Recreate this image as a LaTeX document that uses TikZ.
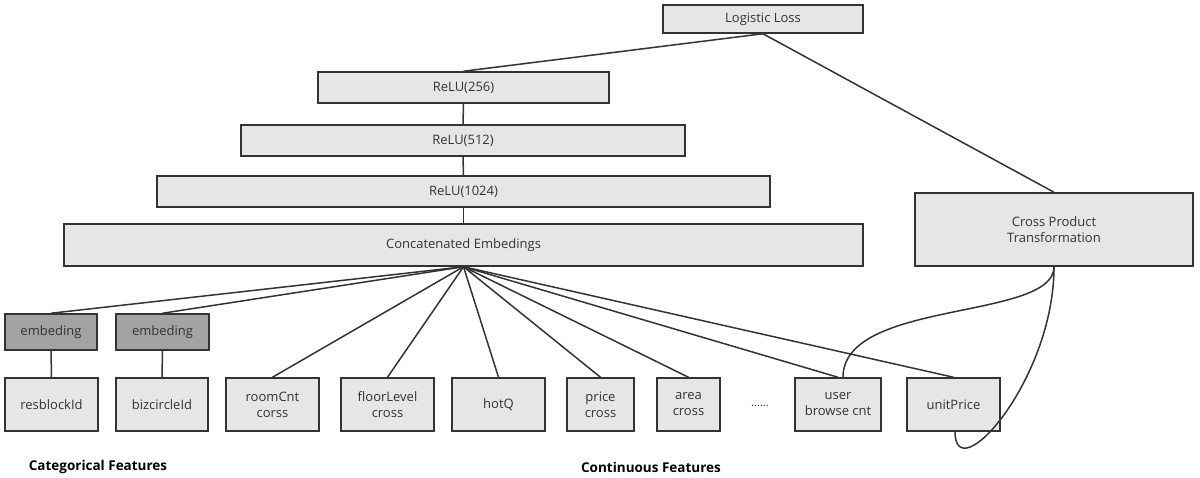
\documentclass[tikz,border=0pt]{standalone}
\usepackage{fontspec}
\setmainfont{Open Sans}
\begin{document}
\begin{tikzpicture}[x=1pt,y=-1pt,
  box/.style={draw=linec,fill=boxfill,line width=1.5pt,inner sep=0pt,align=center,
    font=\fontsize{13}{16}\selectfont,text=textc},
  embbox/.style={box,fill=embfill},
  conn/.style={draw=linec,line width=1.5pt},
  caption/.style={font=\fontsize{13.5}{16}\selectfont\bfseries,text=black}]
\definecolor{linec}{HTML}{333333}
\definecolor{boxfill}{HTML}{E6E6E6}
\definecolor{embfill}{HTML}{A3A3A3}
\definecolor{textc}{HTML}{333333}
\useasboundingbox (0,0) rectangle (1200,477);
\newcommand{\bx}[7]{\node[#1,minimum width=#4-#3,minimum height=#6-#5] (#2) at ({(#3+#4)/2},{(#5+#6)/2}) {#7};}
\bx{box}{loss}{663}{863}{5}{33}{Logistic Loss}
\bx{box}{r256}{318}{609}{72}{103}{ReLU(256)}
\bx{box}{r512}{241}{685}{125}{156}{ReLU(512)}
\bx{box}{r1024}{157}{770}{176}{207}{ReLU(1024)}
\bx{box}{concat}{64}{863}{224}{266}{Concatenated Embedings}
\bx{box}{cross}{915}{1193}{193}{266}{Cross Product\\Transformation}
\bx{embbox}{emba}{5}{97}{314}{350}{embeding}
\bx{embbox}{embb}{116}{209}{314}{350}{embeding}
\bx{box}{resb}{5}{98}{378}{431}{resblockId}
\bx{box}{bizc}{116}{208}{378}{431}{bizcircleId}
\bx{box}{room}{226}{319}{378}{431}{roomCnt\\corss}
\bx{box}{floor}{341}{434}{378}{431}{floorLevel\\cross}
\bx{box}{hotq}{452}{545}{378}{431}{hotQ}
\bx{box}{price}{567}{634}{378}{431}{price\\cross}
\bx{box}{area}{657}{720}{378}{431}{area\\cross}
\bx{box}{user}{795}{881}{378}{431}{user\\browse cnt}
\bx{box}{unit}{907}{1000}{378}{431}{unitPrice}
\node[font=\fontsize{11}{13}\selectfont,text=textc] (dots) at (760,406) {......};
\node[caption] (cat) at (98,467) {Categorical Features};
\node[caption] (cont) at (651,467) {Continuous Features};
% connectors
\draw[conn] (loss.south) -- (r256.north);
\draw[conn] (loss.south) -- (cross.north);
\draw[conn] (r256.south) -- (r512.north);
\draw[conn] (r512.south) -- (r1024.north);
\draw[conn] (r1024.south) -- (concat.north);
\foreach \t in {emba,embb,room,floor,hotq,price,area,user,unit}
  \draw[conn] (concat.south) -- (\t.north);
\draw[conn] (emba.south) -- (resb.north);
\draw[conn] (embb.south) -- (bizc.north);
\draw[conn] (cross.south) .. controls +(0,54) and +(0,-78) .. ([xshift=5pt]user.north);
\draw[conn] (cross.south) .. controls +(0,114) and +(0,59) .. ([xshift=1.5pt]unit.south);
\end{tikzpicture}
\end{document}
